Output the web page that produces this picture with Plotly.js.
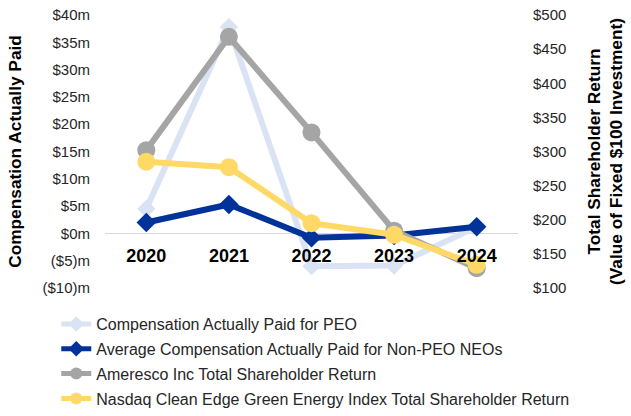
<!DOCTYPE html>
<html>
<head>
<meta charset="utf-8">
<script src="https://cdn.plot.ly/plotly-3.0.1.min.js"></script>
<style>
  html, body { margin: 0; padding: 0; background: #fff; }
  #chart { width: 631px; height: 416px; }
</style>
</head>
<body>
<div id="chart"></div>
<script>
// ---- data ----
const years = ['2020', '2021', '2022', '2023', '2024'];
const capPEO = [4.5, 37.8, -6.0, -5.9, 1.2];          // $m, left axis
const capNonPEO = [2.0, 5.3, -0.8, -0.4, 1.2];        // $m, left axis
const amerescoTSR = [302, 468, 328, 184, 129];        // $, right axis
const nasdaqTSR = [285, 277, 195, 178, 134];          // $, right axis

const leftTickVals = [-10, -5, 0, 5, 10, 15, 20, 25, 30, 35, 40];
const leftTickText = ['($10)m', '($5)m', '$0m', '$5m', '$10m', '$15m', '$20m', '$25m', '$30m', '$35m', '$40m'];

const seriesNames = [
  'Compensation Actually Paid for PEO',
  'Average Compensation Actually Paid for Non-PEO NEOs',
  'Ameresco Inc Total Shareholder Return',
  'Nasdaq Clean Edge Green Energy Index Total Shareholder Return'
];

const FONT = '"Liberation Sans", Arial, sans-serif';

const traces = [
  {
    x: years, y: capPEO, name: seriesNames[0], yaxis: 'y', legendgroup: 'a',
    mode: 'lines+markers', line: { color: '#DAE3F3', width: 6 },
    marker: { symbol: 'diamond', size: 14, color: '#DAE3F3' }
  },
  {
    x: years, y: capNonPEO, name: seriesNames[1], yaxis: 'y', legendgroup: 'b',
    mode: 'lines+markers', line: { color: '#003399', width: 6 },
    marker: { symbol: 'diamond', size: 15, color: '#003399' }
  },
  {
    x: years, y: amerescoTSR, name: seriesNames[2], yaxis: 'y2', legendgroup: 'c',
    mode: 'lines+markers', line: { color: '#A5A5A5', width: 6 },
    marker: { symbol: 'circle', size: 18, color: '#A5A5A5' }
  },
  {
    x: years, y: nasdaqTSR, name: seriesNames[3], yaxis: 'y2', legendgroup: 'd',
    mode: 'lines+markers', line: { color: '#FFD966', width: 6 },
    marker: { symbol: 'circle', size: 18, color: '#FFD966' }
  }
];

const layout = {
  width: 631, height: 416,
  margin: { l: 105, r: 113, t: 15, b: 128, autoexpand: false },
  paper_bgcolor: '#fff', plot_bgcolor: 'rgba(0,0,0,0)',
  font: { family: FONT, size: 14.67, color: '#262626' },
  showlegend: true,
  legend: {
    x: -0.118, y: -0.07, xanchor: 'left', yanchor: 'top',
    orientation: 'v', traceorder: 'grouped', tracegroupgap: 1,
    itemsizing: 'constant',
    font: { family: FONT, size: 16, color: '#262626' },
    bgcolor: 'rgba(0,0,0,0)'
  },
  xaxis: {
    type: 'category', range: [-0.5, 4.5],
    anchor: 'free', position: 0.2,
    showline: false, showgrid: false, zeroline: false,
    ticks: '', ticklabelstandoff: 10,
    tickfont: { family: FONT, size: 18, color: '#000', weight: 'bold' }
  },
  yaxis: {
    range: [-10, 40], tickvals: leftTickVals, ticktext: leftTickText,
    showgrid: false, zeroline: true, zerolinecolor: '#D9D9D9', zerolinewidth: 1.3,
    showline: false, ticks: '', ticklabelstandoff: 14,
    tickfont: { family: FONT, size: 15, color: '#262626' },
    title: { text: 'Compensation Actually Paid', standoff: 16,
      font: { family: FONT, size: 17.3, color: '#000', weight: 'bold' } }
  },
  yaxis2: {
    overlaying: 'y', side: 'right', range: [100, 500], dtick: 50, tick0: 100,
    tickprefix: '$', showgrid: false, zeroline: false, showline: false,
    ticks: '', ticklabelstandoff: 14,
    tickfont: { family: FONT, size: 15, color: '#262626' },
    title: { text: 'Total Shareholder Return<br>(Value of Fixed $100 Investment)', standoff: 22,
      font: { family: FONT, size: 17.3, color: '#000', weight: 'bold' } }
  }
};

Plotly.newPlot('chart', traces, layout, { displayModeBar: false, staticPlot: true });
</script>
</body>
</html>
